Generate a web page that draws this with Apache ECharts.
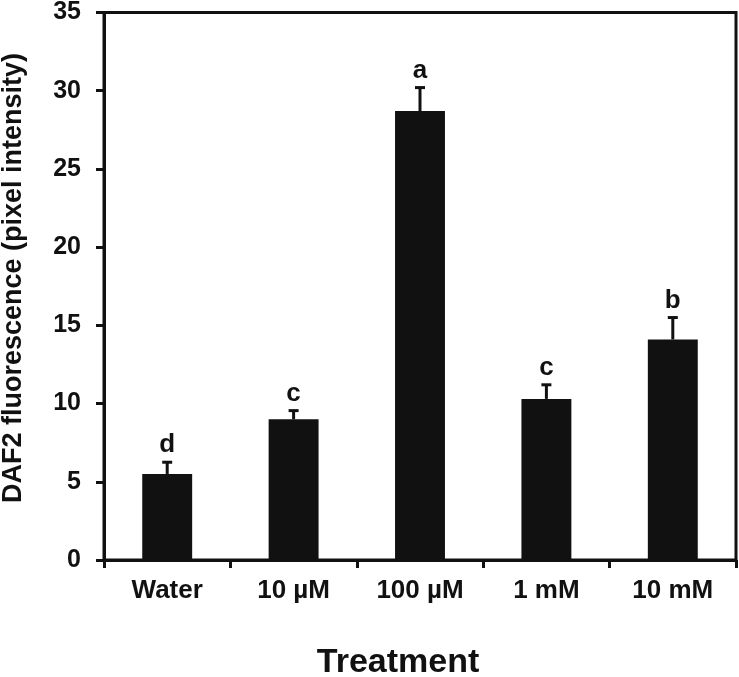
<!DOCTYPE html>
<html>
<head>
<meta charset="utf-8">
<script src="https://cdn.jsdelivr.net/npm/echarts@6/dist/echarts.min.js"></script>
<style>html,body{margin:0;padding:0;background:#fff}#c{width:739px;height:677px}</style>
</head>
<body>
<div id="c"></div>
<script>
var categories = ['Water', '10 \u00b5M', '100 \u00b5M', '1 mM', '10 mM'];
var means = [5.5, 9.0, 28.7, 10.3, 14.1];
var errors = [0.75, 0.55, 1.5, 0.9, 1.4];
var letters = ['d', 'c', 'a', 'c', 'b'];
var yTicks = [0, 5, 10, 15, 20, 25, 30, 35];

var FONT = '"Liberation Sans", Arial, sans-serif';
var INK = '#111';
var chart = echarts.init(document.getElementById('c'));
var errData = categories.map(function (c, i) { return [i, means[i], errors[i]]; });

chart.setOption({
  animation: false,
  backgroundColor: '#fff',
  grid: { left: 104, right: 3, top: 11, bottom: 117, show: true, borderColor: INK, borderWidth: 3, containLabel: false },
  xAxis: {
    type: 'category',
    data: categories,
    axisLine: { lineStyle: { color: INK, width: 3 } },
    axisTick: { show: true, length: 8, lineStyle: { color: INK, width: 3 } },
    axisLabel: { color: INK, fontFamily: FONT, fontWeight: 'bold', fontSize: 26, margin: 18 }
  },
  yAxis: {
    type: 'value',
    min: 0, max: 35, interval: 5,
    splitLine: { show: false },
    axisLine: { show: true, lineStyle: { color: INK, width: 3 } },
    axisTick: { show: true, length: 8, lineStyle: { color: INK, width: 3 } },
    axisLabel: { color: INK, fontFamily: FONT, fontWeight: 'bold', fontSize: 25, margin: 23,
      formatter: function (v) { return yTicks.indexOf(v) >= 0 ? String(v) : ''; } }
  },
  graphic: [
    { type: 'text', x: 14, y: 278, rotation: Math.PI / 2,
      style: { text: 'DAF2 fluorescence (pixel intensity)', fill: INK, font: 'bold 27px ' + FONT, textAlign: 'center', textVerticalAlign: 'middle' } },
    { type: 'text', x: 398, y: 663,
      style: { text: 'Treatment', fill: INK, font: 'bold 34px ' + FONT, textAlign: 'center', textVerticalAlign: 'middle' } }
  ],
  series: [
    { type: 'bar', data: means, barWidth: '39.5%', itemStyle: { color: INK }, z: 2 },
    { type: 'custom', data: errData, z: 3,
      renderItem: function (params, api) {
        var i = api.value(0), m = api.value(1), e = api.value(2);
        var base = api.coord([i, m]);
        var top = api.coord([i, m + e]);
        var hw = 5;
        return { type: 'group', children: [
          { type: 'line', shape: { x1: base[0], y1: base[1], x2: top[0], y2: top[1] }, style: { stroke: INK, lineWidth: 3 } },
          { type: 'line', shape: { x1: top[0] - hw, y1: top[1], x2: top[0] + hw, y2: top[1] }, style: { stroke: INK, lineWidth: 3 } },
          { type: 'text', style: { text: letters[i], x: top[0], y: top[1] - 17, fill: INK, font: 'bold 26px ' + FONT, textAlign: 'center', textVerticalAlign: 'middle' } }
        ] };
      }
    }
  ]
});
</script>
</body>
</html>
